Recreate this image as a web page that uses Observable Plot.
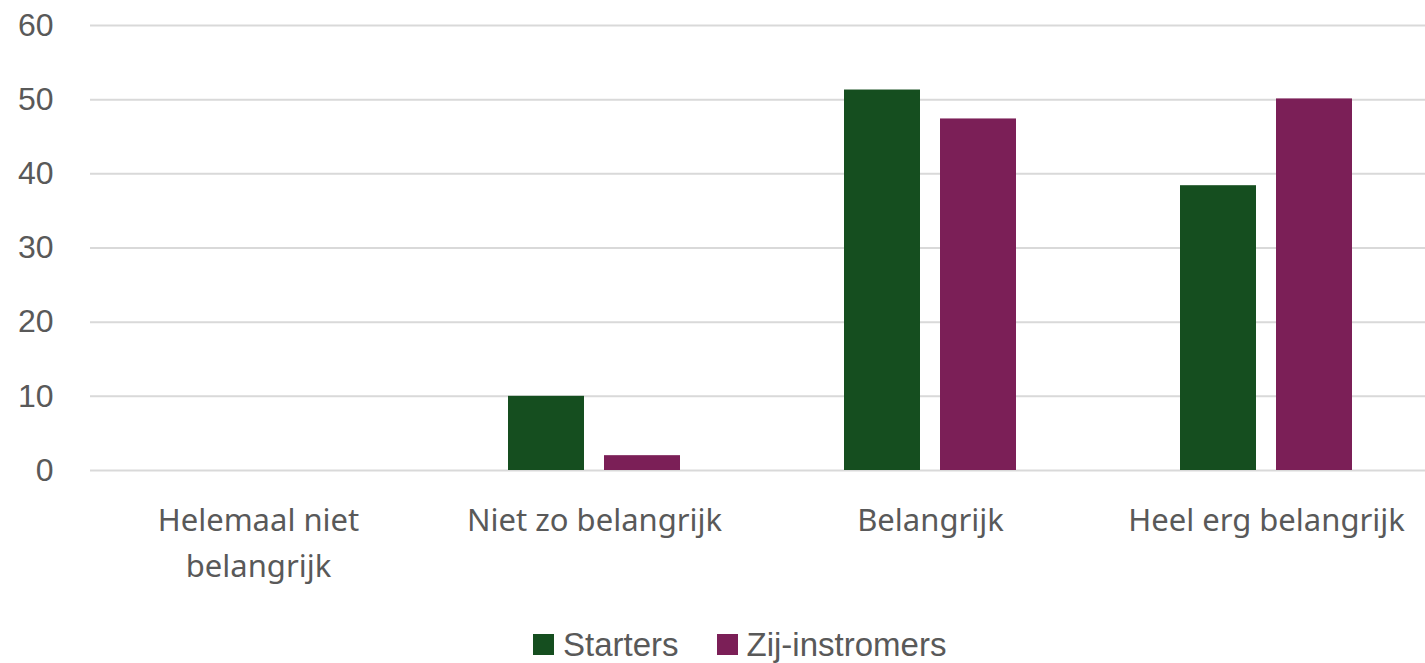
<!DOCTYPE html>
<html>
<head>
<meta charset="utf-8">
<script src="https://cdn.jsdelivr.net/npm/d3@7"></script>
<script src="https://cdn.jsdelivr.net/npm/@observablehq/plot@0.6"></script>
<style>
  html, body { margin: 0; padding: 0; background: #fff; }
  #wrap { position: relative; width: 1425px; height: 663px; overflow: hidden; }
  #legend { position: absolute; left: 533px; top: 628px; display: flex; align-items: center; font: 33px "Liberation Sans", Arial, sans-serif; line-height: 1; color: #595959; }
  #legend .item { display: flex; align-items: center; margin-right: 38px; }
  #legend .sw { width: 21px; height: 21px; margin-right: 9px; }
</style>
</head>
<body>
<div id="wrap"><div id="chart"></div><div id="legend"></div></div>
<script>
const categories = ["Helemaal niet belangrijk", "Niet zo belangrijk", "Belangrijk", "Heel erg belangrijk"];
const categoryLabels = ["Helemaal niet\nbelangrijk", "Niet zo belangrijk", "Belangrijk", "Heel erg belangrijk"];
const series = ["Starters", "Zij-instromers"];
const starters = [0, 10, 51.3, 38.4];
const zijInstromers = [0, 2, 47.4, 50.1];
const yTicks = [0, 10, 20, 30, 40, 50, 60];
const colors = ["#154e1f", "#7b1f57"];

const values = [starters, zijInstromers];
const data = [];
series.forEach((s, si) => categories.forEach((c, ci) => data.push({category: c, series: s, value: values[si][ci]})));
const labelMap = new Map(categories.map((c, i) => [c, categoryLabels[i]]));

const chart = Plot.plot({
  width: 1425,
  height: 600,
  marginLeft: 90,
  marginRight: -9,
  marginTop: 25,
  marginBottom: 130,
  fx: {domain: categories, padding: 0, label: null},
  x: {domain: series, paddingInner: 0.208, paddingOuter: 0.854, axis: null},
  y: {domain: [0, 60], label: null},
  color: {domain: series, range: colors},
  marks: [
    Plot.ruleY(yTicks, {stroke: "#d9d9d9", strokeWidth: 2}),
    Plot.barY(data, {fx: "category", x: "series", y: "value", fill: "series"}),
    Plot.axisY({ticks: yTicks, tickSize: 0, tickPadding: 37, fontSize: 32, fontFamily: "Liberation Sans", color: "#595959", label: null}),
    Plot.axisFx({anchor: "bottom", tickSize: 0, tickPadding: 27, fontSize: 31, fontFamily: "Noto Sans", color: "#595959", lineHeight: 1.5, tickFormat: d => labelMap.get(d), label: null})
  ]
});
document.getElementById("chart").appendChild(chart);

const legend = document.getElementById("legend");
series.forEach((s, i) => {
  const item = document.createElement("div");
  item.className = "item";
  const sw = document.createElement("div");
  sw.className = "sw";
  sw.style.background = colors[i];
  const t = document.createElement("span");
  t.textContent = s;
  item.appendChild(sw);
  item.appendChild(t);
  legend.appendChild(item);
});
</script>
</body>
</html>
